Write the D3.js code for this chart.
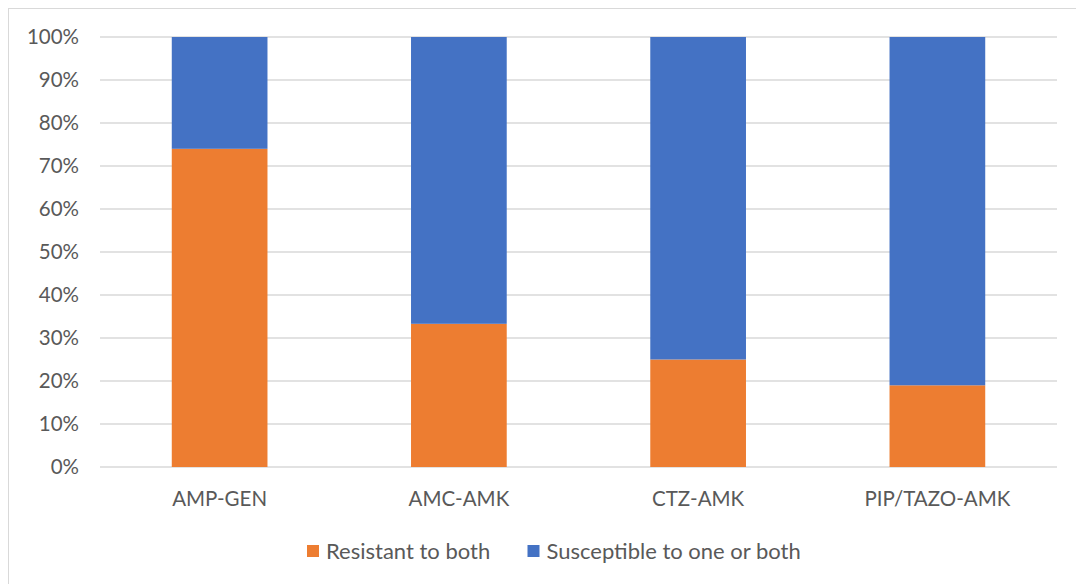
<!DOCTYPE html>
<html>
<head>
<meta charset="utf-8">
<script src="https://cdn.jsdelivr.net/npm/d3@7"></script>
<style>
  html, body { margin: 0; padding: 0; background: #fff; }
  svg text { font-family: Lato, "Open Sans", sans-serif; fill: #595959; }
</style>
</head>
<body>
<svg id="chart" width="1076" height="584"></svg>
<script>
// Combination regimens and share of isolates (percent)
const categories = ["AMP-GEN", "AMC-AMK", "CTZ-AMK", "PIP/TAZO-AMK"];
const resistantBoth = [74, 33.3, 25, 19];
const susceptibleOneOrBoth = [26, 66.7, 75, 81];
const seriesNames = ["Resistant to both", "Susceptible to one or both"];
const seriesColors = ["#ED7D31", "#4472C4"];
const yTicks = [0, 10, 20, 30, 40, 50, 60, 70, 80, 90, 100];

const svg = d3.select("#chart");
const W = 1076, H = 584;
const margin = { top: 37, right: 19, bottom: 117, left: 100 };
const innerW = W - margin.left - margin.right;
const innerH = H - margin.top - margin.bottom;
const fontSize = 20.5;
const legendFontSize = 22;

// chart area frame
svg.append("rect")
  .attr("x", 8.5).attr("y", 8.5)
  .attr("width", W + 10).attr("height", H + 10)
  .attr("fill", "#fff").attr("stroke", "#d9d9d9").attr("stroke-width", 1);

const g = svg.append("g").attr("transform", `translate(${margin.left},${margin.top})`);

const x = d3.scaleBand().domain(categories).range([0, innerW]).paddingInner(0.6).paddingOuter(0.3);
const y = d3.scaleLinear().domain([0, 100]).range([innerH, 0]);

// gridlines
g.append("g")
  .selectAll("line")
  .data(yTicks)
  .join("line")
  .attr("x1", 0).attr("x2", innerW)
  .attr("y1", d => y(d)).attr("y2", d => y(d))
  .attr("stroke", "#d9d9d9").attr("stroke-width", 1.5);

// y axis labels
const yAxis = g.append("g")
  .call(d3.axisLeft(y).tickValues(yTicks).tickFormat(d => d + "%").tickSize(0).tickPadding(21));
yAxis.select(".domain").remove();
yAxis.selectAll("text").attr("font-size", fontSize).style("fill", "#595959");

// stacked bars
const rows = categories.map((c, i) => ({ cat: c, r: resistantBoth[i], s: susceptibleOneOrBoth[i] }));
const stack = d3.stack().keys(["r", "s"])(rows);

g.append("g")
  .selectAll("g")
  .data(stack)
  .join("g")
  .attr("fill", (d, i) => seriesColors[i])
  .selectAll("rect")
  .data(d => d)
  .join("rect")
  .attr("x", d => x(d.data.cat))
  .attr("width", x.bandwidth())
  .attr("y", d => y(d[1]))
  .attr("height", d => y(d[0]) - y(d[1]));

// x axis labels
const xAxis = g.append("g")
  .attr("transform", `translate(0,${innerH})`)
  .call(d3.axisBottom(x).tickSize(0).tickPadding(24));
xAxis.select(".domain").remove();
xAxis.selectAll("text").attr("font-size", fontSize).style("fill", "#595959");
svg.selectAll("g[font-family]").attr("font-family", null).attr("font-size", null);

// legend
const legend = svg.append("g").attr("transform", "translate(307,551)");
const legendX = [0, 220.5];
seriesNames.forEach((name, i) => {
  const item = legend.append("g").attr("transform", `translate(${legendX[i]},0)`);
  item.append("rect").attr("x", 0).attr("y", -6).attr("width", 12).attr("height", 12).attr("fill", seriesColors[i]);
  item.append("text").attr("x", 19).attr("y", 0).attr("dy", "0.35em").attr("font-size", legendFontSize).text(name);
});
</script>
</body>
</html>
